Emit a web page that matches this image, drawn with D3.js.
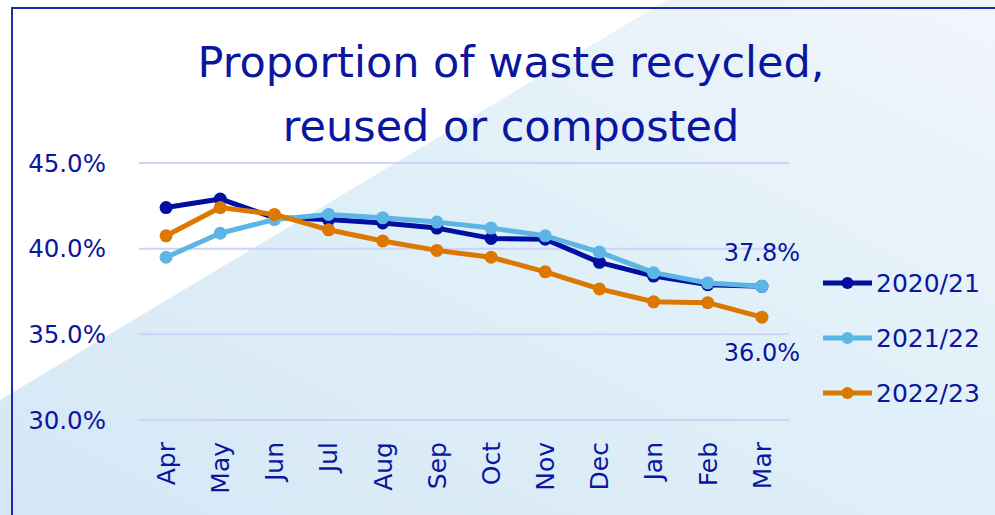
<!DOCTYPE html>
<html>
<head>
<meta charset="utf-8">
<style>
    body {
        margin: 0;
        font-family: "DejaVu Sans", sans-serif;
    }
    svg {
        display: block;
    }
</style>
<script src="https://d3js.org/d3.v7.min.js"></script>
</head>
<body>
<svg id="chart"></svg>
<script>
let months = ["Apr", "May", "Jun", "Jul", "Aug", "Sep", "Oct", "Nov", "Dec", "Jan", "Feb", "Mar"]
let seriesNames = ["2020/21", "2021/22", "2022/23"]
let values2020 = [42.4, 42.9, 41.8, 41.7, 41.5, 41.2, 40.6, 40.55, 39.2, 38.4, 37.9, 37.8]
let values2021 = [39.5, 40.9, 41.7, 42.0, 41.8, 41.55, 41.2, 40.75, 39.8, 38.6, 38.0, 37.8]
let values2022 = [40.75, 42.4, 42.0, 41.1, 40.45, 39.9, 39.5, 38.65, 37.65, 36.9, 36.85, 36.0]
let yTicks = [30, 35, 40, 45]
let endLabels = [{value: 37.8, text: "37.8%"}, {value: 36.0, text: "36.0%"}]

let colors = ["#000f9f", "#5db5e5", "#dc7800"]
let textColor = "#0b169e"

let width = 995, height = 515
let svg = d3.select("#chart").attr("width", width).attr("height", height)

// background: white corner top-left, soft blue gradient for the rest
let defs = svg.append("defs")
let grad = defs.append("linearGradient").attr("id", "bg")
    .attr("x1", "0%").attr("y1", "100%").attr("x2", "100%").attr("y2", "0%")
grad.append("stop").attr("offset", "0%").attr("stop-color", "#d5e7f6")
grad.append("stop").attr("offset", "55%").attr("stop-color", "#e0f0f8")
grad.append("stop").attr("offset", "100%").attr("stop-color", "#f2f5fc")

svg.append("rect").attr("width", width).attr("height", height).attr("fill", "#ffffff")
svg.append("polygon")
    .attr("points", "0,400 667,0 995,0 995,515 0,515")
    .attr("fill", "url(#bg)")

// frame
svg.append("path")
    .attr("d", "M12,515 L12,8 L995,8")
    .attr("fill", "none")
    .attr("stroke", "#1f2ca8")
    .attr("stroke-width", 2)

// title
let title = svg.append("text")
    .attr("text-anchor", "middle")
    .attr("fill", textColor)
    .style("font-size", "43px")
title.append("tspan").attr("x", 511).attr("y", 77).text("Proportion of waste recycled,")
title.append("tspan").attr("x", 511).attr("y", 141).text("reused or composted")

let x = d3.scaleBand().domain(months).range([139, 789])
let y = d3.scaleLinear().domain([30, 45]).range([420, 163])

// gridlines
svg.append("g").selectAll("line").data(yTicks).enter()
    .append("line")
    .attr("x1", 139).attr("x2", 789)
    .attr("y1", d => y(d)).attr("y2", d => y(d))
    .attr("stroke", "#cdd1fb")
    .attr("stroke-width", 2)

// y labels
svg.append("g").selectAll("text").data(yTicks).enter()
    .append("text")
    .attr("x", 106)
    .attr("y", d => y(d))
    .attr("dy", "0.35em")
    .attr("text-anchor", "end")
    .attr("fill", textColor)
    .style("font-size", "24.5px")
    .text(d => d.toFixed(1) + "%")

// x labels (rotated)
svg.append("g").selectAll("text").data(months).enter()
    .append("text")
    .attr("transform", d => "translate(" + (x(d) + x.bandwidth() / 2) + ",442) rotate(-90)")
    .attr("dy", "0.35em")
    .attr("text-anchor", "end")
    .attr("fill", textColor)
    .style("font-size", "25px")
    .text(d => d)

let allSeries = [values2020, values2021, values2022]
let line = d3.line()
    .x((d, i) => x(months[i]) + x.bandwidth() / 2)
    .y(d => y(d))

allSeries.forEach((vals, s) => {
    let g = svg.append("g")
    g.append("path")
        .datum(vals)
        .attr("d", line)
        .attr("fill", "none")
        .attr("stroke", colors[s])
        .attr("stroke-width", 5)
        .attr("stroke-linejoin", "round")
    g.selectAll("circle").data(vals).enter()
        .append("circle")
        .attr("cx", (d, i) => x(months[i]) + x.bandwidth() / 2)
        .attr("cy", d => y(d))
        .attr("r", 6.5)
        .attr("fill", colors[s])
})

// end labels
svg.append("text")
    .attr("x", 800).attr("y", y(endLabels[0].value) - 34)
    .attr("dy", "0.35em")
    .attr("text-anchor", "end")
    .attr("fill", textColor)
    .style("font-size", "24px")
    .text(endLabels[0].text)
svg.append("text")
    .attr("x", 800).attr("y", y(endLabels[1].value) + 35)
    .attr("dy", "0.35em")
    .attr("text-anchor", "end")
    .attr("fill", textColor)
    .style("font-size", "24px")
    .text(endLabels[1].text)

// legend
let legend = svg.append("g").selectAll("g").data(seriesNames).enter()
    .append("g")
    .attr("transform", (d, i) => "translate(823," + (283 + i * 55) + ")")
legend.append("line")
    .attr("x1", 0).attr("x2", 49)
    .attr("stroke", (d, i) => colors[i])
    .attr("stroke-width", 5)
legend.append("circle")
    .attr("cx", 24.5).attr("r", 6)
    .attr("fill", (d, i) => colors[i])
legend.append("text")
    .attr("x", 53)
    .attr("dy", "0.35em")
    .attr("fill", textColor)
    .style("font-size", "25px")
    .text(d => d)
</script>
</body>
</html>
